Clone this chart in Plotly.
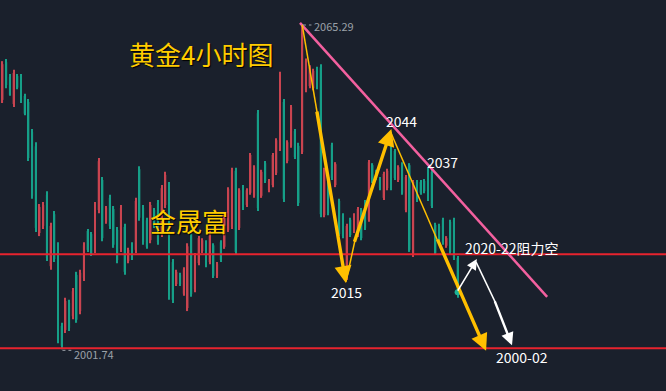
import plotly.graph_objects as go

# ---- candle data (XAUUSD 4H), price units ----
opens = [2050.6, 2058.0, 2055.1, 2049.8, 2055.3, 2055.1, 2051.4, 2050.2, 2044.3, 2041.5,
         2024.5, 2025.9, 2032.0, 2018.0, 2028.2, 2022.0, 2006.3, 2005.5, 2010.8, 2008.2,
         2016.3, 2009.2, 2015.7, 2024.9, 2024.3, 2021.2, 2029.0, 2034.9, 2026.7, 2031.4,
         2029.2, 2025.1, 2021.4, 2025.7, 2019.0, 2022.3, 2021.2, 2037.0, 2029.4, 2027.0,
         2023.1, 2029.0, 2030.4, 2024.3, 2030.0, 2033.9, 2018.8, 2014.5, 2016.3, 2012.6,
         2009.8, 2024.5, 2013.5, 2018.6, 2021.0, 2022.7, 2018.8, 2022.1, 2016.1, 2022.7,
         2021.8, 2025.1, 2025.7, 2036.7, 2025.5, 2033.5, 2030.0, 2032.4, 2031.8, 2048.0,
         2031.8, 2038.2, 2032.9, 2033.9, 2036.3, 2041.0, 2050.2, 2038.6, 2041.6, 2044.5,
         2041.6, 2040.4, 2052.5, 2053.3, 2052.9, 2056.7, 2057.0, 2028.0, 2035.5, 2041.8,
         2033.9, 2030.8, 2028.0, 2016.0, 2027.1, 2024.9, 2024.1, 2029.0, 2030.6, 2027.1,
         2037.8, 2036.5, 2035.1, 2031.4, 2033.3, 2043.7, 2040.6, 2034.9, 2038.0, 2029.0,
         2037.8, 2020.2, 2034.5, 2034.5, 2034.7, 2036.9, 2036.5, 2026.1, 2025.9, 2027.1,
         2022.0, 2026.7, 2027.1, 2019.6]
highs = [2058.2, 2058.6, 2055.7, 2056.5, 2055.7, 2055.7, 2051.8, 2050.8, 2044.9, 2042.3,
         2030.2, 2030.6, 2032.7, 2026.5, 2028.8, 2022.7, 2006.9, 2011.8, 2011.4, 2013.7,
         2016.9, 2017.3, 2022.7, 2025.3, 2024.7, 2030.6, 2039.2, 2035.5, 2029.8, 2032.0,
         2029.8, 2025.7, 2030.0, 2026.3, 2021.6, 2022.7, 2031.4, 2037.6, 2030.0, 2027.5,
         2030.6, 2029.4, 2031.0, 2033.9, 2036.5, 2034.5, 2019.4, 2017.3, 2016.7, 2017.8,
         2022.5, 2025.1, 2020.6, 2023.9, 2023.5, 2023.1, 2025.1, 2022.5, 2018.8, 2023.1,
         2028.4, 2033.5, 2037.3, 2037.3, 2033.3, 2033.9, 2033.3, 2040.2, 2037.8, 2048.6,
         2036.9, 2038.6, 2035.1, 2040.2, 2043.1, 2056.1, 2050.8, 2042.7, 2049.6, 2044.9,
         2042.2, 2065.29, 2058.7, 2057.4, 2056.7, 2057.1, 2057.6, 2037.3, 2035.9, 2042.2,
         2038.4, 2031.2, 2028.4, 2026.3, 2027.5, 2028.4, 2029.6, 2029.4, 2031.0, 2038.8,
         2038.2, 2036.9, 2035.5, 2036.5, 2037.1, 2044.3, 2041.0, 2037.8, 2038.4, 2035.9,
         2038.2, 2034.9, 2034.9, 2034.9, 2035.1, 2037.3, 2036.9, 2026.5, 2026.3, 2027.5,
         2023.9, 2027.1, 2027.5, 2020.0]
lows = [2050.0, 2052.9, 2051.4, 2049.2, 2052.7, 2050.0, 2047.6, 2038.6, 2031.2, 2024.7,
        2023.9, 2025.3, 2019.0, 2017.3, 2018.8, 2002.9, 2001.74, 2004.9, 2005.3, 2007.6,
        2006.9, 2008.6, 2015.1, 2020.8, 2020.0, 2020.6, 2028.4, 2022.9, 2026.3, 2025.3,
        2021.6, 2018.6, 2020.8, 2016.3, 2018.6, 2019.2, 2020.6, 2026.9, 2022.2, 2021.4,
        2022.5, 2025.5, 2022.2, 2023.7, 2029.4, 2011.4, 2010.8, 2014.1, 2014.1, 2012.2,
        2009.2, 2012.0, 2012.9, 2018.2, 2020.6, 2017.8, 2018.4, 2015.7, 2015.7, 2018.8,
        2021.4, 2024.7, 2025.3, 2020.2, 2025.1, 2029.0, 2029.6, 2032.0, 2031.4, 2028.8,
        2031.4, 2034.3, 2032.5, 2033.5, 2035.9, 2040.6, 2030.6, 2038.2, 2041.2, 2039.0,
        2029.8, 2040.0, 2052.1, 2052.9, 2052.5, 2052.7, 2027.6, 2027.6, 2028.0, 2034.9,
        2033.5, 2023.9, 2023.5, 2015.29, 2023.7, 2024.5, 2023.7, 2023.1, 2025.1, 2026.7,
        2034.3, 2034.9, 2032.9, 2031.0, 2032.9, 2032.9, 2034.9, 2034.5, 2032.0, 2028.6,
        2020.8, 2019.8, 2030.6, 2032.0, 2032.3, 2030.8, 2029.4, 2020.2, 2022.5, 2022.2,
        2021.6, 2020.4, 2019.2, 2011.8]
closes = [2057.6, 2053.5, 2051.6, 2055.9, 2053.0, 2050.6, 2047.9, 2039.2, 2031.8, 2025.5,
          2029.6, 2030.0, 2019.6, 2025.9, 2019.4, 2003.5, 2002.4, 2011.2, 2005.9, 2013.1,
          2007.5, 2016.7, 2022.1, 2021.2, 2020.4, 2030.0, 2038.6, 2023.5, 2029.4, 2025.9,
          2022.2, 2019.2, 2029.4, 2016.9, 2021.2, 2019.6, 2030.8, 2027.5, 2022.7, 2021.8,
          2030.0, 2025.9, 2022.7, 2033.3, 2035.9, 2012.0, 2011.4, 2016.9, 2014.5, 2017.4,
          2021.9, 2012.5, 2020.0, 2023.5, 2023.1, 2018.2, 2024.7, 2016.1, 2018.4, 2019.2,
          2028.0, 2033.1, 2036.9, 2020.8, 2032.9, 2029.4, 2032.9, 2039.8, 2037.4, 2029.4,
          2036.5, 2034.7, 2034.7, 2039.8, 2042.7, 2055.5, 2031.2, 2042.3, 2049.2, 2039.4,
          2030.4, 2064.5, 2058.3, 2057.0, 2056.3, 2053.1, 2028.2, 2036.9, 2028.4, 2035.3,
          2038.0, 2024.3, 2023.9, 2025.9, 2024.1, 2028.0, 2029.2, 2023.5, 2025.5, 2038.4,
          2034.7, 2035.3, 2033.3, 2036.1, 2036.7, 2033.3, 2035.3, 2037.4, 2032.4, 2035.5,
          2021.2, 2034.5, 2031.0, 2032.4, 2032.7, 2031.2, 2029.8, 2020.6, 2022.9, 2022.6,
          2023.5, 2020.8, 2019.6, 2012.9]
bars = list(range(len(opens)))

# ---- drawing levels / annotations (bar index, price) ----
resistance_level = 2020.33
support_level = 2001.9
trend_line = [(80.4, 2065.7), (147.2, 2012.0)]
# yellow wave arrows: thin lead-in segment, then thick arrow (tail -> head)
yellow_thin = [[(81.0, 2065.3), (85.3, 2047.0)],
               [(92.8, 2014.9), (95.4, 2023.5)],
               [(105.0, 2044.1), (117.6, 2023.0)]]
yellow_arrows = [[(84.9, 2048.6), (92.8, 2014.7)],
                 [(95.0, 2022.5), (105.1, 2044.9)],
                 [(117.4, 2023.5), (130.7, 2001.4)]]
white_thin = [[(128.0, 2018.8), (133.2, 2010.9)]]
white_arrows = [[(122.8, 2012.9), (128.2, 2019.4), 1.6],
                [(132.9, 2011.4), (137.7, 2002.5), 2.4]]
labels = [("2044", 107.7, 2046.5, "center"),
          ("2037", 118.8, 2038.4, "center"),
          ("2015", 93.1, 2012.9, "center"),
          ("2020-22阻力空", 124.5, 2021.6, "left"),
          ("2000-02", 132.8, 2000.2, "left")]
hi_label = ("2065.29", 83.7, 2065.1)
lo_label = ("2001.74", 18.8, 2000.8)
title_text = ("黄金4小时图", 53.6, 2059.7)
brand_text = ("金晟富", 50.4, 2026.9)
last_price = (123, 2012.9)

BG = "#1a202c"
RED = "#c94450"
GREEN = "#169f88"
FONT = "Noto Sans CJK SC, Noto Sans, sans-serif"

# candles drawn as wick bars + body bars on the library's scales
colors = [RED if c >= o else GREEN for o, c in zip(opens, closes)]
wick_len = [h - l for h, l in zip(highs, lows)]
body_base = [min(o, c) for o, c in zip(opens, closes)]
body_len = [max(abs(c - o), 0.15) for o, c in zip(opens, closes)]

fig = go.Figure()
fig.add_trace(go.Bar(x=bars, y=wick_len, base=lows, width=0.3,
                     marker=dict(color=colors, line=dict(width=0)),
                     showlegend=False, hoverinfo="skip"))
fig.add_trace(go.Bar(x=bars, y=body_len, base=body_base, width=0.55,
                     marker=dict(color=colors, line=dict(width=0), opacity=0.85),
                     showlegend=False, hoverinfo="skip"))
fig.add_trace(go.Scatter(x=[last_price[0]], y=[last_price[1]], mode="markers",
                         marker=dict(color="#1db398", size=6), showlegend=False,
                         hoverinfo="skip"))

shapes = []
for lvl in (resistance_level, support_level):
    shapes.append(dict(type="line", xref="paper", x0=0, x1=1, yref="y", y0=lvl, y1=lvl,
                       line=dict(color="#e8232e", width=2), layer="above"))
shapes.append(dict(type="line", x0=trend_line[0][0], y0=trend_line[0][1],
                   x1=trend_line[1][0], y1=trend_line[1][1],
                   line=dict(color="#f3609f", width=2.5), layer="above"))
for (a, b) in yellow_thin:
    shapes.append(dict(type="line", x0=a[0], y0=a[1], x1=b[0], y1=b[1],
                       line=dict(color="#ffbf00", width=1.5), layer="above"))
for (a, b) in white_thin:
    shapes.append(dict(type="line", x0=a[0], y0=a[1], x1=b[0], y1=b[1],
                       line=dict(color="#ffffff", width=1.5), layer="above"))
# high / low markers
shapes.append(dict(type="line", x0=81.2, x1=hi_label[1] - 0.2, y0=2065.29, y1=2065.29,
                   line=dict(color="#9aa0a8", width=1, dash="dot"), layer="above"))
shapes.append(dict(type="line", x0=16.2, x1=lo_label[1] - 0.2, y0=2001.5, y1=2001.5,
                   line=dict(color="#9aa0a8", width=1, dash="dot"), layer="above"))
fig.update_layout(shapes=shapes)

ann = []
for (a, b) in yellow_arrows:
    ann.append(dict(x=b[0], y=b[1], ax=a[0], ay=a[1], xref="x", yref="y", axref="x", ayref="y",
                    text="", showarrow=True, arrowhead=2, arrowsize=1.0, arrowwidth=3.4,
                    arrowcolor="#ffbf00", standoff=0))
for (a, b, w) in white_arrows:
    ann.append(dict(x=b[0], y=b[1], ax=a[0], ay=a[1], xref="x", yref="y", axref="x", ayref="y",
                    text="", showarrow=True, arrowhead=2, arrowsize=1.3 if w < 2 else 1.05,
                    arrowwidth=w, arrowcolor="#ffffff", standoff=0))
for (t, x, y, anc) in labels:
    ann.append(dict(x=x, y=y, text=t, showarrow=False, xanchor=anc, yanchor="middle",
                    font=dict(family=FONT, size=14, color="#ffffff")))
for (t, x, y) in (hi_label, lo_label):
    ann.append(dict(x=x, y=y, text=t, showarrow=False, xanchor="left", yanchor="middle",
                    font=dict(family=FONT, size=11, color="#9aa0a8")))
for (t, x, y) in (title_text, brand_text):
    ann.append(dict(x=x, y=y, text=t, showarrow=False, xanchor="center", yanchor="middle",
                    font=dict(family=FONT, size=26, color="#ffcc00",
                              shadow="1px 1px 1px #000000")))
fig.update_layout(annotations=ann)

fig.update_layout(
    width=666, height=391, margin=dict(l=0, r=0, t=0, b=0),
    paper_bgcolor=BG, plot_bgcolor=BG, showlegend=False, barmode="overlay",
    xaxis=dict(range=[-0.676, 179.32], visible=False, showgrid=False, fixedrange=True),
    yaxis=dict(range=[1993.53, 2070.19], visible=False, showgrid=False, fixedrange=True),
)
fig.write_html("out.html")
